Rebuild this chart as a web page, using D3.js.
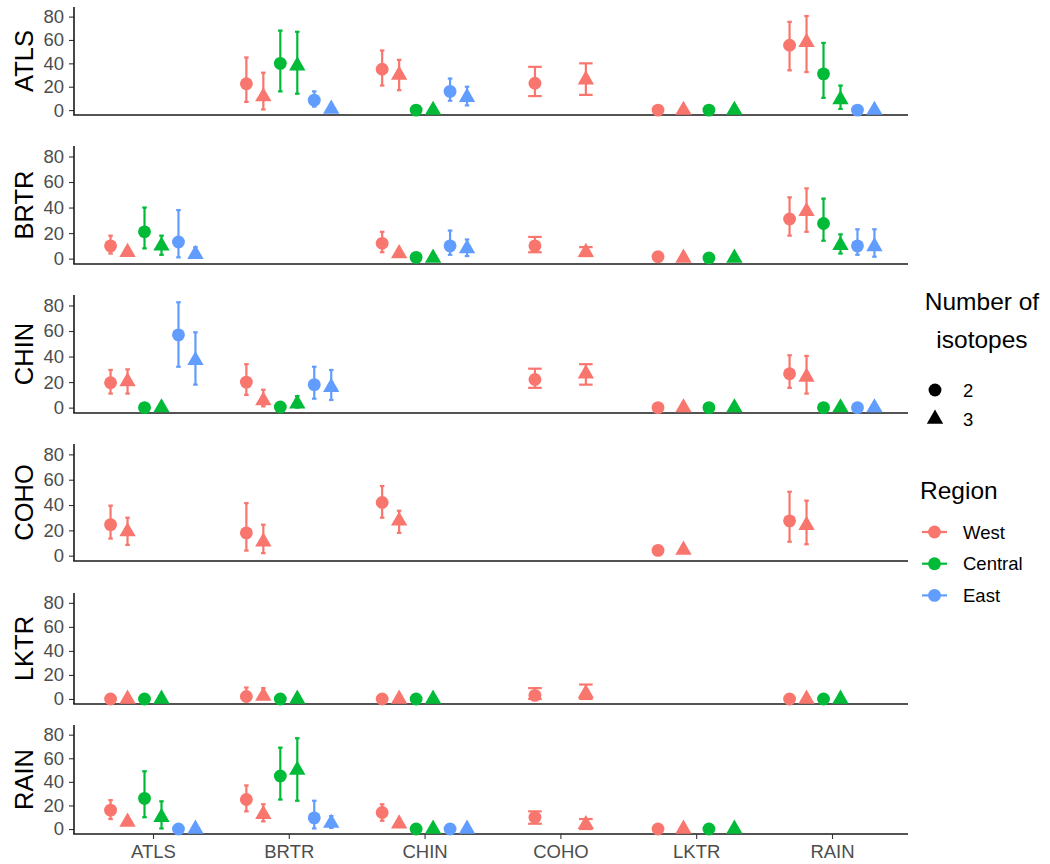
<!DOCTYPE html>
<html>
<head>
<meta charset="utf-8">
<script src="https://cdn.jsdelivr.net/npm/d3@7"></script>
<style>
  body { margin: 0; background: #fff; }
  svg { display: block; font-family: "Liberation Sans", Arial, sans-serif; }
</style>
</head>
<body>
<div id="chart"></div>
<script>
// facet rows and x categories
const rowNames = ['ATLS', 'BRTR', 'CHIN', 'COHO', 'LKTR', 'RAIN'];
const colNames = ['ATLS', 'BRTR', 'CHIN', 'COHO', 'LKTR', 'RAIN'];
const regions = ['West', 'Central', 'East'];
const isotopes = ['2', '3'];
// number of regions present for each x category (dodge groups = regions x isotopes)
const colRegionCount = [3, 3, 3, 1, 2, 3];
const yTicks = [0, 20, 40, 60, 80];

// values per cell: [mean, lower, upper] in order West-2, West-3, Central-2, Central-3, East-2, East-3
const rowATLS = {
  BRTR: [[22.5, 7, 45], [11.5, 0.5, 32], [40, 16, 68], [38, 14, 67], [8.5, 3, 16], [1, 1, 1]],
  CHIN: [[35, 21, 51], [30, 17, 43], [0, 0, 0], [0, 0, 0], [16, 8, 27], [11, 4, 20]],
  COHO: [[23, 12, 37], [26, 13, 40]],
  LKTR: [[0, 0, 0], [0, 0, 0], [0, 0, 0], [0, 0, 0]],
  RAIN: [[55.5, 34, 75.5], [58, 32.5, 80.5], [31, 10.5, 57.5], [9, 1, 21], [0, 0, 0], [0, 0, 0]]
};
const rowBRTR = {
  ATLS: [[10, 4, 18], [5, 5, 5], [21, 8, 40], [10, 3, 18], [13, 1, 38], [3.5, 1, 9]],
  CHIN: [[12, 5, 21], [4, 4, 4], [1, 1, 1], [0.5, 0.5, 0.5], [10, 3, 22], [8, 2, 15]],
  COHO: [[10, 5, 17], [5, 2, 9]],
  LKTR: [[1.5, 1.5, 1.5], [0.5, 0.5, 0.5], [0.5, 0.5, 0.5], [0.5, 0.5, 0.5]],
  RAIN: [[31, 18, 48], [37, 21, 55], [27.5, 14, 47], [10.5, 4, 19], [10, 3, 23], [9.5, 1.5, 23]]
};
const rowCHIN = {
  ATLS: [[19.5, 11, 29.5], [20.5, 11, 30], [0, 0, 0], [0, 0, 0], [57, 32, 82.5], [37, 18, 59]],
  BRTR: [[20, 10, 34], [5.5, 1, 14], [0.5, 0.5, 0.5], [3, 0, 9], [18, 7, 32], [16, 6, 29.5]],
  COHO: [[22, 15.5, 30.5], [26.5, 18, 34]],
  LKTR: [[0, 0, 0], [0, 0, 0], [0, 0, 0], [0, 0, 0]],
  RAIN: [[26.5, 15.5, 41], [24, 11, 40.5], [0, 0, 0], [0, 0, 0], [0, 0, 0], [0, 0, 0]]
};
const rowCOHO = {
  ATLS: [[24.5, 13.5, 39.5], [19, 8.5, 30]],
  BRTR: [[18, 4, 41.5], [11, 2, 24.5]],
  CHIN: [[42, 30, 55], [27.5, 18, 35.5]],
  LKTR: [[4.2, 4.2, 4.2], [4.5, 4.5, 4.5]],
  RAIN: [[27.5, 11, 50.5], [24, 9, 43.5]]
};
const rowLKTR = {
  ATLS: [[0, 0, 0], [0, 0, 0], [0, 0, 0], [0, 0, 0]],
  BRTR: [[2, 0, 9.5], [2.5, 0, 9], [0, 0, 0], [0, 0, 0]],
  CHIN: [[0, 0, 0], [0, 0, 0], [0, 0, 0], [0, 0, 0]],
  COHO: [[3, 0, 9], [4.5, 0, 12]],
  RAIN: [[0, 0, 0], [0, 0, 0], [0, 0, 0], [0, 0, 0]]
};
const rowRAIN = {
  ATLS: [[16, 8.5, 24.5], [6, 6, 6], [26, 10, 49], [10, 0.5, 23.5], [0, 0, 0], [0, 0, 0]],
  BRTR: [[25, 15, 37], [12.5, 6.5, 21], [45, 25, 69], [50, 24, 77], [9.5, 0.5, 24], [5, 1, 11]],
  CHIN: [[14, 7, 21], [4.5, 4.5, 4.5], [0, 0, 0], [0, 0, 0], [0, 0, 0], [0, 0, 0]],
  COHO: [[10, 4.5, 15], [4, 0, 8.5]],
  LKTR: [[0, 0, 0], [0, 0, 0], [0, 0, 0], [0, 0, 0]]
};
const rowData = [rowATLS, rowBRTR, rowCHIN, rowCOHO, rowLKTR, rowRAIN];

// layout
const colors = ['#F8766D', '#00BA38', '#619CFF'];
const panelTop = [7, 146, 295, 444, 593, 725];
const panelBottom = [115, 264, 413, 561, 704, 834];
const left = 74, right = 908;
const dodgeWidth = 0.75, capWidth = 0.2;

const svg = d3.select('#chart').append('svg')
  .attr('width', 1050)
  .attr('height', 864);

const xScale = d3.scalePoint().domain(colNames).range([153, 832]);
const step = xScale.step();

const circleSym = d3.symbol().type(d3.symbolCircle).size(130);
const triSym = d3.symbol().type(d3.symbolTriangle).size(116);

rowNames.forEach((rowName, r) => {
  const top = panelTop[r], bottom = panelBottom[r];
  const yScale = d3.scaleLinear().domain([-4.2, 88.2]).range([bottom, top]);
  const g = svg.append('g');

  // flatten cells into points with dodge offsets
  const points = [];
  colNames.forEach((col, c) => {
    const cell = rowData[r][col];
    if (!cell) return;
    const n = colRegionCount[c] * 2;
    cell.forEach((v, i) => {
      if (!v) return;
      points.push({
        x: xScale(col) + step * dodgeWidth * ((i + 0.5) / n - 0.5),
        cap: step * capWidth / n / 2,
        region: Math.floor(i / 2),
        iso: i % 2,
        mean: v[0], lo: v[1], hi: v[2]
      });
    });
  });

  // y axis
  const yAxisG = g.append('g')
    .attr('transform', 'translate(' + left + ',0)')
    .call(d3.axisLeft(yScale).tickValues(yTicks).tickSize(5).tickPadding(5));
  yAxisG.select('.domain').remove();
  yAxisG.selectAll('line').attr('stroke', '#333').attr('stroke-width', 1.1);
  yAxisG.selectAll('text')
    .attr('fill', '#4D4D4D')
    .attr('font-size', '18.5px')
    .attr('font-family', '"Liberation Sans", Arial, sans-serif');

  // axis lines
  g.append('line')
    .attr('x1', left).attr('x2', left)
    .attr('y1', top).attr('y2', bottom)
    .attr('stroke', '#1a1a1a').attr('stroke-width', 1.6);
  g.append('line')
    .attr('x1', left - 0.8).attr('x2', right)
    .attr('y1', bottom).attr('y2', bottom)
    .attr('stroke', '#1a1a1a').attr('stroke-width', 1.6);

  // row label
  g.append('text')
    .attr('transform', 'translate(33,' + ((top + bottom) / 2) + ') rotate(-90)')
    .attr('text-anchor', 'middle')
    .attr('font-size', '25.5px')
    .attr('fill', '#000')
    .text(rowName);

  // error bars
  const bars = g.selectAll('g.err').data(points.filter(d => d.hi > d.lo)).enter()
    .append('g').attr('class', 'err')
    .attr('stroke', d => colors[d.region])
    .attr('stroke-width', 2.2);
  bars.append('line')
    .attr('x1', d => d.x).attr('x2', d => d.x)
    .attr('y1', d => yScale(d.lo)).attr('y2', d => yScale(d.hi));
  bars.append('line')
    .attr('x1', d => d.x - d.cap).attr('x2', d => d.x + d.cap)
    .attr('y1', d => yScale(d.lo)).attr('y2', d => yScale(d.lo));
  bars.append('line')
    .attr('x1', d => d.x - d.cap).attr('x2', d => d.x + d.cap)
    .attr('y1', d => yScale(d.hi)).attr('y2', d => yScale(d.hi));

  // points
  g.selectAll('path.pt').data(points).enter()
    .append('path').attr('class', 'pt')
    .attr('transform', d => 'translate(' + d.x + ',' + yScale(d.mean) + ')')
    .attr('d', d => d.iso === 0 ? circleSym() : triSym())
    .attr('fill', d => colors[d.region]);

  // x axis under the last row
  if (r === rowNames.length - 1) {
    const xAxisG = g.append('g')
      .attr('transform', 'translate(0,' + bottom + ')')
      .call(d3.axisBottom(xScale).tickSize(5).tickPadding(6));
    xAxisG.select('.domain').remove();
    xAxisG.selectAll('line').attr('stroke', '#333').attr('stroke-width', 1.1);
    xAxisG.selectAll('text')
      .attr('fill', '#4D4D4D')
      .attr('font-size', '18.5px')
      .attr('font-family', '"Liberation Sans", Arial, sans-serif');
  }
});

// legend: number of isotopes
const leg = svg.append('g');
leg.append('text')
  .attr('x', 982).attr('y', 310)
  .attr('text-anchor', 'middle')
  .attr('font-size', '24.5px')
  .text('Number of');
leg.append('text')
  .attr('x', 982).attr('y', 348)
  .attr('text-anchor', 'middle')
  .attr('font-size', '24.5px')
  .text('isotopes');
isotopes.forEach((iso, i) => {
  const cy = 390 + i * 29;
  leg.append('path')
    .attr('transform', 'translate(935,' + cy + ')')
    .attr('d', i === 0 ? circleSym() : triSym())
    .attr('fill', '#000');
  leg.append('text')
    .attr('x', 963).attr('y', cy)
    .attr('dy', '0.36em')
    .attr('font-size', '18.5px')
    .text(iso);
});

// legend: region
leg.append('text')
  .attr('x', 920).attr('y', 499)
  .attr('font-size', '24.5px')
  .text('Region');
regions.forEach((reg, i) => {
  const cy = 532 + i * 31.7;
  leg.append('line')
    .attr('x1', 922).attr('x2', 947)
    .attr('y1', cy).attr('y2', cy)
    .attr('stroke', colors[i]).attr('stroke-width', 2.2);
  leg.append('path')
    .attr('transform', 'translate(934.5,' + cy + ')')
    .attr('d', circleSym())
    .attr('fill', colors[i]);
  leg.append('text')
    .attr('x', 963).attr('y', cy)
    .attr('dy', '0.36em')
    .attr('font-size', '18.5px')
    .text(reg);
});
</script>
</body>
</html>
